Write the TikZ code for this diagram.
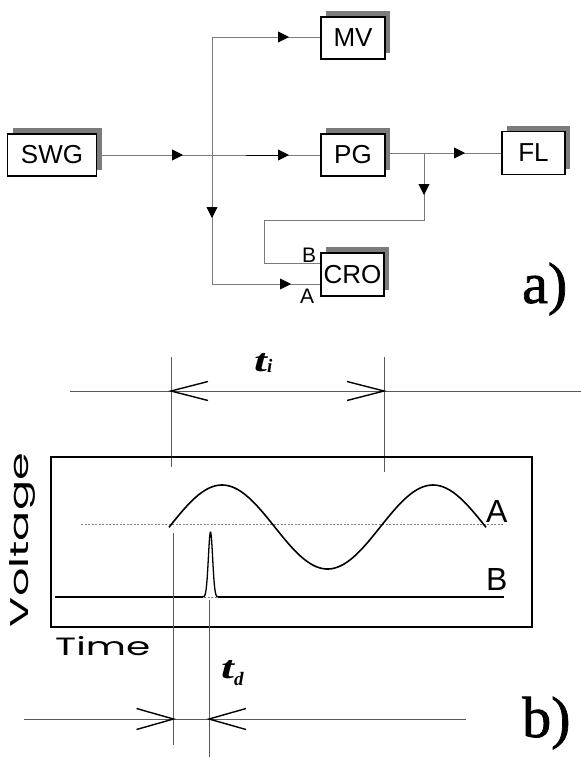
\documentclass[tikz,border=0pt]{standalone}
\usepackage{fontspec}
\setmainfont{Liberation Serif}
\setsansfont{Liberation Sans}
\newfontfamily\geofont{Poppins}
\newfontfamily\heavyserif{Liberation Serif}[FakeBold=1.2]
\usetikzlibrary{arrows.meta,shadows,calc}
\definecolor{ln}{HTML}{7A7A7A}
\definecolor{dl}{HTML}{5A5A5A}
\definecolor{shd}{HTML}{7C7C7C}
\begin{document}
\begin{tikzpicture}[x=1pt,y=-1pt,
  blk/.style={draw=black, line width=1.2pt, fill=white, inner sep=0pt,
    font=\sffamily\fontsize{26}{26}\selectfont,
    general shadow={fill=shd, shadow xshift=5pt, shadow yshift=6pt}},
  conn/.style={draw=ln, line width=0.9pt},
  ah/.style={-{Triangle[length=11pt,width=11pt]}, draw=black, fill=black, line width=0.9pt},
  dimline/.style={draw=dl, line width=0.9pt},
  vline/.style={draw=dl, line width=0.7pt},
  barb/.style={draw=black, line width=1.4pt},
  wave/.style={draw=black, line width=1.6pt, line join=round},
  zero/.style={draw=gray, line width=0.6pt, dash pattern=on 2pt off 1.5pt},
  lbl/.style={font=\sffamily\fontsize{21}{21}\selectfont, inner sep=0pt},
  glbl/.style={font=\sffamily\fontsize{32}{32}\selectfont, inner sep=0pt},
  big/.style={font=\heavyserif\fontsize{58}{58}\selectfont, inner sep=0pt},
  tlbl/.style={font=\fontsize{32}{32}\selectfont\bfseries\itshape, inner sep=0pt}
]
\useasboundingbox (0,0) rectangle (581,758);

% ---------- part a) ----------
\node[blk, minimum width=89pt, minimum height=42pt] (swg) at (52,155) {SWG};
\node[blk, minimum width=64pt, minimum height=42pt] (mv)  at (353,38) {MV};
\node[blk, minimum width=64pt, minimum height=42pt] (pg)  at (353,155) {PG};
\node[blk, minimum width=63pt, minimum height=43pt] (fl)  at (533.5,153) {FL};
\node[blk, minimum width=63pt, minimum height=43pt] (cro) at (352.5,274.5) {CRO};

\coordinate (jt) at (212,37);
\coordinate (j)  at (212,155);
\coordinate (jb) at (212,284);
\coordinate (br) at (424,153);
\coordinate (brb) at (424,220);
\coordinate (fbl) at (264,220);
\coordinate (fbb) at (264,263);

\draw[conn] (swg.east) -- (pg.west);
\draw[conn] (jt) -- (jb);
\draw[conn] (jt) -- (mv.west |- jt);
\draw[conn] (jb) -- (cro.west |- jb);
\draw[conn] (pg.east |- fl.west) -- (fl.west);
\draw[conn] (br) -- (brb) -- (fbl) -- (fbb) -- (cro.west |- fbb);

% arrowheads along the connectors
\draw[ah] (172,155) -- (183,155);
\draw[ah] (246,155) -- (289,155);
\draw[ah] (278,37) -- (289,37);
\draw[ah] (280,284) -- (291,284);
\draw[ah] (212,207) -- (212,218);
\draw[ah] (454,153) -- (465,153);
\draw[ah] (424,184) -- (424,195);

\node[lbl, anchor=base west] (lb) at (302,262) {B};
\node[lbl, anchor=base west] (la) at (300,303) {A};
\node[big, anchor=base west] (a) at (522,303) {a)};

% ---------- part b) ----------
% t_i dimension
\coordinate (til) at (70,391);
\coordinate (tir) at (581,391);
\coordinate (ti1) at (171,391);
\coordinate (ti2) at (384,391);
\draw[dimline] (til) -- (tir);
\draw[vline] (171,357) -- (171,467);
\draw[vline] (384,357) -- (384,472);
\draw[barb] ($(ti1)+(37,-9.5)$) -- (ti1) -- ($(ti1)+(37,9.5)$);
\draw[barb] ($(ti2)+(-37,-9.5)$) -- (ti2) -- ($(ti2)+(-37,9.5)$);
\node[tlbl, anchor=base west] (ti) at (254,371) {\scalebox{1.45}[1]{t}\raisebox{-1pt}{\fontsize{19}{19}\selectfont i}};

% screen
\node[draw=black, line width=1.5pt, minimum width=481pt, minimum height=170pt, inner sep=0pt] (scr) at (291.5,542) {};
\draw[zero] (81,524) -- (503,524);
\draw[wave] plot[domain=169:486, samples=140, smooth] (\x,{527-42*cos((\x-222)/211*360)});
\draw[wave, line width=1.4pt] (55,597) -- (203,597);
\draw[wave, line width=1.4pt] (218,597) -- (504,597);
\draw[zero] (204,597) -- (217,597);
\draw[wave, line width=1.3pt] plot[domain=203:218, samples=80, smooth] (\x,{597-65*exp(-(((\x-210.5)/3)^2))});
\node[glbl, anchor=base west] (ga) at (486,522) {A};
\node[glbl, anchor=base west] (gb) at (486,590) {B};

\node[rotate=90, inner sep=0pt] (volt) at (22.5,540) {\resizebox{174pt}{19pt}{\geofont Voltage}};
\node[anchor=base west, inner sep=0pt] (time) at (55,655) {\resizebox{95pt}{19pt}{\geofont Time}};

% t_d dimension
\coordinate (tdl) at (24,719);
\coordinate (tdr) at (466,719);
\coordinate (td1) at (173.5,719);
\coordinate (td2) at (209,719);
\draw[vline] (173.5,533) -- (173.5,745);
\draw[vline] (209,600) -- (209,757);
\draw[dimline] (tdl) -- (tdr);
\draw[barb] ($(td1)+(-37,-10.5)$) -- (td1) -- ($(td1)+(-37,10.5)$);
\draw[barb] ($(td2)+(37,-10.5)$) -- (td2) -- ($(td2)+(37,10.5)$);
\node[tlbl, anchor=base west] (td) at (221,678) {\scalebox{1.45}[1]{t}\raisebox{-7pt}{\fontsize{19}{19}\selectfont d}};

\node[big, anchor=base west] (b) at (522,737) {b)};
\end{tikzpicture}
\end{document}
